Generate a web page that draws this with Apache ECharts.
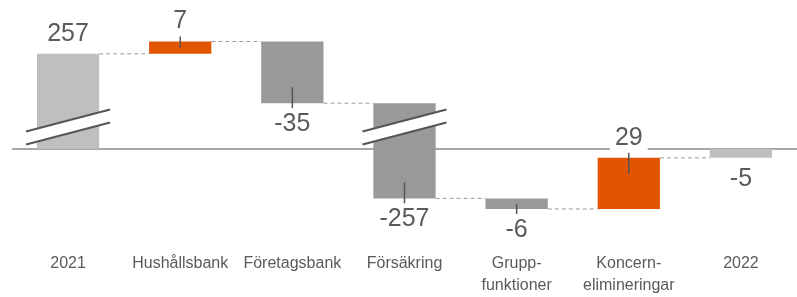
<!DOCTYPE html>
<html>
<head>
  <meta charset="utf-8">
  <title>Resultat 2021 - 2022</title>
  <script src="https://cdn.jsdelivr.net/npm/echarts@6/dist/echarts.min.js"></script>
  <style>
    html, body { margin: 0; padding: 0; background: #fff; }
    #chart { width: 797px; height: 297px; }
  </style>
</head>
<body>
  <div id="chart"></div>
  <script>
    // data
    var categories = ['2021', 'Hushållsbank', 'Företagsbank', 'Försäkring', 'Grupp-\nfunktioner', 'Koncern-\nelimineringar', '2022'];
    var values = [257, 7, -35, -257, -6, 29, -5];
    var isTotal = [1, 0, 0, 0, 0, 0, 1];
    var isBroken = [1, 0, 0, 1, 0, 0, 0];
    var BREAK_UNITS = 203;   // part of the broken bars that is cut out
    var BREAK_AT = 12.5;     // where the cut is drawn (display units)

    var GREY_LIGHT = '#bfbfbf', GREY_DARK = '#999999', ORANGE = '#e35400';
    var TXT = '#5a5a5a';

    // running totals in display units (broken bars are shortened)
    var rows = [];
    var run = 0;
    for (var i = 0; i < values.length; i++) {
      var v = values[i];
      var d = isBroken[i] ? v - Math.sign(v) * BREAK_UNITS : v;
      var start = isTotal[i] ? 0 : run;
      var end = start + d;
      rows.push([i, start, end, v, isTotal[i], isBroken[i]]);
      run = end;
    }

    function renderItem(params, api) {
      var i = api.value(0), s = api.value(1), e = api.value(2);
      var v = api.value(3), total = api.value(4), broken = api.value(5);
      var p0 = api.coord([i, s]), p1 = api.coord([i, e]);
      var bw = api.size([1, 0])[0] * 0.555;
      var cx = p0[0];
      var top = Math.min(p0[1], p1[1]);
      var h = Math.abs(p1[1] - p0[1]);
      var bottom = top + h;
      var color = total ? GREY_LIGHT : (v > 0 ? ORANGE : GREY_DARK);
      var kids = [];

      // connector to next bar
      if (i < values.length - 1) {
        var nx = api.coord([i + 1, e])[0];
        kids.push({
          type: 'line',
          shape: { x1: cx + bw / 2, y1: p1[1], x2: nx - bw / 2, y2: p1[1] },
          style: { stroke: '#9a9a9a', lineWidth: 1, lineDash: [4, 3] }
        });
      }

      kids.push({
        type: 'rect',
        shape: { x: cx - bw / 2, y: top, width: bw, height: h },
        style: { fill: color }
      });

      // cut in the long bars
      if (broken) {
        var yb = api.coord([i, BREAK_AT])[1];
        var k = 22 / 84, half = 42, g = 6.5;
        var xl = cx - half, xr = cx + half;
        var uL = yb - g + k * half, uR = yb - g - k * half;
        var lL = yb + g + k * half, lR = yb + g - k * half;
        kids.push({
          type: 'polygon',
          shape: { points: [[xl, uL], [xr, uR], [xr, lR], [xl, lL]] },
          style: { fill: '#fff' }
        });
        kids.push({ type: 'line', shape: { x1: xl, y1: uL, x2: xr, y2: uR }, style: { stroke: '#555', lineWidth: 2 } });
        kids.push({ type: 'line', shape: { x1: xl, y1: lL, x2: xr, y2: lR }, style: { stroke: '#555', lineWidth: 2 } });
      }

      // small tick from label into the bar
      if (!total) {
        var inw = Math.min(16, h / 2);
        var ty1 = v > 0 ? top - 5 : bottom + 5;
        var ty2 = v > 0 ? top + inw : bottom - inw;
        kids.push({
          type: 'line',
          shape: { x1: cx, y1: ty1, x2: cx, y2: ty2 },
          style: { stroke: '#555', lineWidth: 1.5 }
        });
      }

      kids.push({
        type: 'text',
        z2: 10,
        style: {
          text: String(v),
          x: cx,
          y: v > 0 ? top - 20 : bottom + 21,
          align: 'center',
          verticalAlign: 'middle',
          fill: TXT,
          fontFamily: 'Liberation Sans, Arial, sans-serif',
          fontSize: 25,
          backgroundColor: '#fff',
          padding: [0, 5]
        }
      });

      return { type: 'group', children: kids };
    }

    var chart = echarts.init(document.getElementById('chart'));
    chart.setOption({
      animation: false,
      grid: { left: 12, width: 794, top: 8, height: 241 },
      xAxis: {
        type: 'category',
        data: categories,
        axisLine: { show: false },
        axisTick: { show: false },
        axisLabel: {
          interval: 0,
          margin: 7,
          color: TXT,
          fontFamily: 'Liberation Sans, Arial, sans-serif',
          fontSize: 16,
          lineHeight: 22
        }
      },
      yAxis: {
        type: 'value',
        min: -55,
        max: 80,
        show: false
      },
      series: [{
        type: 'custom',
        renderItem: renderItem,
        encode: { x: 0, y: [1, 2] },
        data: rows,
        markLine: {
          silent: true,
          z: 1,
          symbol: ['none', 'none'],
          label: { show: false },
          lineStyle: { color: '#8a8a8a', width: 1.5, type: 'solid' },
          data: [{ yAxis: 0 }]
        }
      }]
    });
  </script>
</body>
</html>
